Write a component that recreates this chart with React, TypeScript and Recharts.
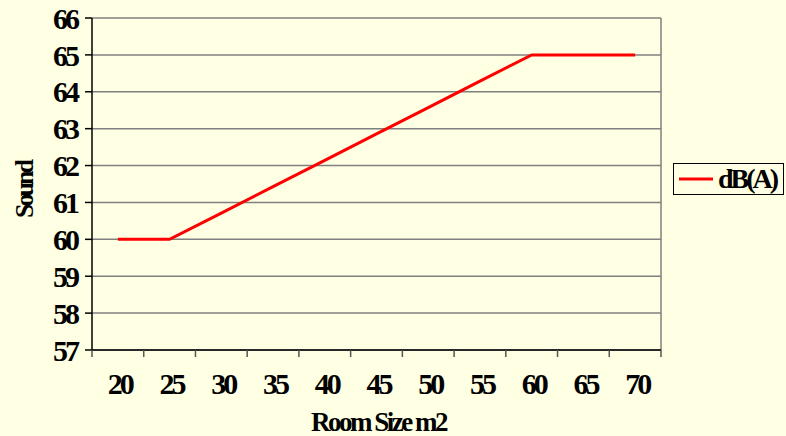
import React from 'react';
import { LineChart, Line, XAxis, YAxis, CartesianGrid, Legend, Label } from 'recharts';

const roomSizes = ['20', '25', '30', '35', '40', '45', '50', '55', '60', '65', '70'];
const soundLevels = [60, 60, 60.71, 61.43, 62.14, 62.86, 63.57, 64.29, 65, 65, 65];
const yTicks = [57, 58, 59, 60, 61, 62, 63, 64, 65, 66];

const chartData = roomSizes.map((size, i) => ({ size, sound: soundLevels[i] }));

const W = 786;
const H = 436;
const xAxisHeight = 80;
const margin = { top: 18, right: 125, bottom: 86 - xAxisHeight, left: 0 };
const yAxisWidth = 92;
const plotLeft = margin.left + yAxisWidth;
const plotRight = W - margin.right;
const band = (plotRight - plotLeft) / roomSizes.length;
const font = '"Liberation Serif", "Times New Roman", serif';

const XTick = (props: any) => {
  const { x, y, payload, index } = props;
  const left = x - band / 2;
  return (
    <g>
      <line x1={left} y1={y} x2={left} y2={y + 7} stroke="#555" strokeWidth={1.5} />
      {index === roomSizes.length - 1 && (
        <line x1={x + band / 2} y1={y} x2={x + band / 2} y2={y + 7} stroke="#555" strokeWidth={1.5} />
      )}
      <text x={x + 2} y={y + 44} textAnchor="middle" fontFamily={font} fontWeight="bold" fontSize={30} letterSpacing={-3} fill="#000">
        {payload.value}
      </text>
    </g>
  );
};

const LegendBox = () => (
  <div style={{ width: 111, height: 32, border: '1px solid #000', display: 'flex', alignItems: 'center', boxSizing: 'border-box', fontFamily: font, fontWeight: 'bold', fontSize: 28, letterSpacing: -3, color: '#000', whiteSpace: 'nowrap' }}>
    <svg width={40} height={30}>
      <line x1={5} y1={15} x2={39} y2={15} stroke="#ff0000" strokeWidth={3} />
    </svg>
    <span style={{ marginLeft: 4 }}>dB(A)</span>
  </div>
);

export default function App() {
  return (
    <div style={{ position: 'absolute', left: 0, top: 0, width: W, height: H, background: '#ffffe3' }}>
      <LineChart width={W} height={H} data={chartData} margin={margin}>
        <CartesianGrid stroke="#808080" strokeWidth={1.5} vertical verticalPoints={[plotRight]} />
        <XAxis
          dataKey="size"
          height={xAxisHeight}
          padding={{ left: band / 2, right: band / 2 }}
          tickLine={false}
          tickSize={0}
          tickMargin={0}
          axisLine={{ stroke: '#000', strokeWidth: 1.5 }}
          tick={<XTick />}
          interval={0}
        >
          <Label value="Room Size m2" position="insideBottom" offset={0} dx={2} dy={1} fontFamily={font} fontWeight="bold" fontSize={27} letterSpacing={-2.5} fill="#000" />
        </XAxis>
        <YAxis
          width={yAxisWidth}
          domain={[57, 66]}
          ticks={yTicks}
          interval={0}
          tickSize={7}
          tickLine={{ stroke: '#000', strokeWidth: 1.5 }}
          axisLine={{ stroke: '#000', strokeWidth: 1.5 }}
          tick={{ fontFamily: font, fontWeight: 'bold', fontSize: 30, letterSpacing: -3, fill: '#000' }}
          tickMargin={8}
        >
          <Label value="Sound" angle={-90} position="insideLeft" offset={24} dy={34} fontFamily={font} fontWeight="bold" fontSize={26} letterSpacing={-3} fill="#000" />
        </YAxis>
        <Legend
          content={<LegendBox />}
          wrapperStyle={{ position: 'absolute', left: 673, top: 163, width: 0, height: 0 }}
        />
        <Line type="linear" dataKey="sound" name="dB(A)" stroke="#ff0000" strokeWidth={3} dot={false} activeDot={false} isAnimationActive={false} />
      </LineChart>
    </div>
  );
}
